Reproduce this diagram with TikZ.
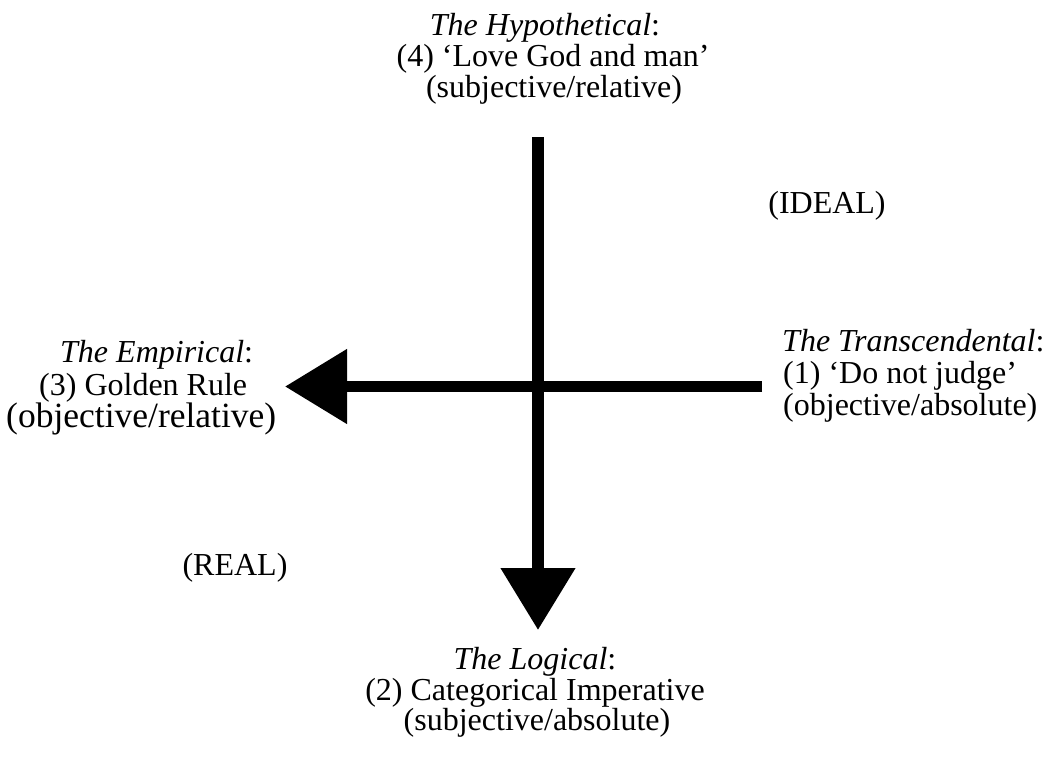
\documentclass[tikz,border=0pt]{standalone}
\usepackage{fontspec}
\setmainfont{Liberation Serif}
\usetikzlibrary{arrows.meta}
\tikzset{
  axis/.style={line width=11.5pt, -{Triangle[length=62pt,width=72pt]}},
  lbl/.style={inner sep=0pt, font=\fontsize{32}{32}\selectfont},
  biglbl/.style={inner sep=0pt, font=\fontsize{35.5}{36}\selectfont},
}
\begin{document}
\begin{tikzpicture}[x=1pt,y=-1pt]
\useasboundingbox[fill=white] (0,0) rectangle (1047,758);
% axes
\coordinate (hR) at (762,386.5);
\coordinate (hL) at (285,386.5);
\coordinate (vT) at (538,137);
\coordinate (vB) at (538,630);
\draw[axis] (vT) -- (vB);
\draw[axis] (hR) -- (hL);
% top
\node[lbl,anchor=base] (hyp1) at (545,35) {\textit{The Hypothetical}:};
\node[lbl,anchor=base] (hyp2) at (553,66) {(4) ‘Love God and man’};
\node[lbl,anchor=base] (hyp3) at (554,97) {(subjective/relative)};
% bottom
\node[lbl,anchor=base] (log1) at (535,669) {\textit{The Logical}:};
\node[lbl,anchor=base] (log2) at (535,700) {(2) Categorical Imperative};
\node[lbl,anchor=base] (log3) at (537,730) {(subjective/absolute)};
% left
\node[lbl,anchor=base west] (emp1) at (60,362) {\textit{The Empirical}:};
\node[lbl,anchor=base west] (emp2) at (39,395) {(3) Golden Rule};
\node[biglbl,anchor=base west] (emp3) at (6,427) {(objective/relative)};
% right
\node[lbl,anchor=base west] (tra1) at (782,351) {\textit{The Transcendental}:};
\node[lbl,anchor=base west] (tra2) at (783,383) {(1) ‘Do not judge’};
\node[lbl,anchor=base west] (tra3) at (783,415) {(objective/absolute)};
% side labels
\node[lbl,anchor=base] (ideal) at (827,213) {(IDEAL)};
\node[lbl,anchor=base] (real) at (235,575) {(REAL)};
\end{tikzpicture}
\end{document}
